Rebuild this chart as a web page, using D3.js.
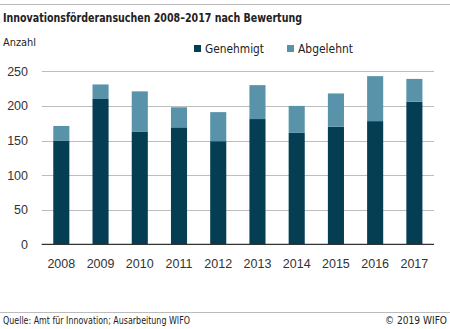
<!DOCTYPE html>
<html>
<head>
<meta charset="utf-8">
<title>Innovationsförderansuchen</title>
<style>
  body { margin: 0; background: #fff; }
  text { font-family: "Liberation Sans", Arial, sans-serif; }
  .narrow { font-family: "Liberation Sans Narrow", "DejaVu Sans Condensed", sans-serif; }
</style>
</head>
<body>
<script src="https://d3js.org/d3.v7.min.js"></script>
<script>
// data
var years = ["2008", "2009", "2010", "2011", "2012", "2013", "2014", "2015", "2016", "2017"];
var genehmigt = [150, 210, 163, 169, 149, 181, 161, 170, 178, 206];
var abgelehnt = [21, 21, 58, 29, 42, 49, 39, 48, 65, 33];
var seriesNames = ["Genehmigt", "Abgelehnt"];
var yTicks = [0, 50, 100, 150, 200, 250];

const width = 450, height = 329;
const colors = ["#053d52", "#5893a9"];

var svg = d3.select("body").append("svg")
    .attr("width", width)
    .attr("height", height);

// top and bottom rules
svg.append("line").attr("x1", 0).attr("x2", width).attr("y1", 4.5).attr("y2", 4.5)
    .attr("stroke", "#bbb").attr("stroke-width", 1);
svg.append("line").attr("x1", 0).attr("x2", width).attr("y1", 312.5).attr("y2", 312.5)
    .attr("stroke", "#bbb").attr("stroke-width", 1);

svg.append("text").attr("class", "narrow")
    .attr("x", 3).attr("y", 22)
    .attr("textLength", 299).attr("lengthAdjust", "spacingAndGlyphs")
    .style("font-size", "13px").style("font-weight", "bold").attr("fill", "#222")
    .text("Innovationsförderansuchen 2008–2017 nach Bewertung");

svg.append("text").attr("class", "narrow")
    .attr("x", 3).attr("y", 46)
    .attr("textLength", 33).attr("lengthAdjust", "spacingAndGlyphs")
    .style("font-size", "11px").attr("fill", "#222")
    .text("Anzahl");

var x = d3.scaleBand().domain(years).range([41.7, 434]).paddingInner(0.59).paddingOuter(0.295);
var y = d3.scaleLinear().domain([0, 250]).range([244.3, 71.3]);

// gridlines
svg.append("g").selectAll("line").data(yTicks.filter(d => d > 0)).enter().append("line")
    .attr("x1", 41.7).attr("x2", 434)
    .attr("y1", d => Math.round(y(d)) + 0.5).attr("y2", d => Math.round(y(d)) + 0.5)
    .attr("stroke", "#bdbdbd").attr("stroke-width", 1);

// y tick labels
svg.append("g").selectAll("text").data(yTicks).enter().append("text")
    .attr("x", 28).attr("y", d => y(d) + 4.5)
    .attr("text-anchor", "end")
    .style("font-size", "12.5px").attr("fill", "#333")
    .text(d => d);

var rows = years.map((yr, i) => ({ year: yr, Genehmigt: genehmigt[i], Abgelehnt: abgelehnt[i] }));
var stack = d3.stack().keys(seriesNames)(rows);

svg.append("g").selectAll("g").data(stack).enter().append("g")
    .attr("fill", (d, i) => colors[i])
    .selectAll("rect").data(d => d).enter().append("rect")
    .attr("x", d => x(d.data.year))
    .attr("width", x.bandwidth())
    .attr("y", d => y(d[1]))
    .attr("height", d => y(d[0]) - y(d[1]));

// baseline
svg.append("line").attr("x1", 41.7).attr("x2", 434)
    .attr("y1", y(0)).attr("y2", y(0))
    .attr("stroke", "#333").attr("stroke-width", 1.2);

// x labels
svg.append("g").selectAll("text").data(years).enter().append("text")
    .attr("x", d => x(d) + x.bandwidth() / 2).attr("y", 268)
    .attr("text-anchor", "middle")
    .style("font-size", "12.5px").attr("fill", "#333")
    .text(d => d);

// legend
var legX = [194, 287];
var legW = [59, 55];
var leg = svg.append("g").selectAll("g").data(seriesNames).enter().append("g")
    .attr("transform", (d, i) => "translate(" + legX[i] + ",44)");
leg.append("rect").attr("width", 7).attr("height", 7).attr("y", 1)
    .attr("fill", (d, i) => colors[i]);
leg.append("text").attr("class", "narrow").attr("x", 11).attr("y", 9)
    .attr("textLength", (d, i) => legW[i]).attr("lengthAdjust", "spacingAndGlyphs")
    .style("font-size", "13px").attr("fill", "#222")
    .text(d => d);

// footer
svg.append("text").attr("class", "narrow")
    .attr("x", 3).attr("y", 324)
    .attr("textLength", 187).attr("lengthAdjust", "spacingAndGlyphs")
    .style("font-size", "10px").attr("fill", "#222")
    .text("Quelle: Amt für Innovation; Ausarbeitung WIFO");
svg.append("text").attr("class", "narrow")
    .attr("x", 385).attr("y", 324)
    .attr("textLength", 62).attr("lengthAdjust", "spacingAndGlyphs")
    .style("font-size", "10px").attr("fill", "#222")
    .text("© 2019 WIFO");
</script>
</body>
</html>
